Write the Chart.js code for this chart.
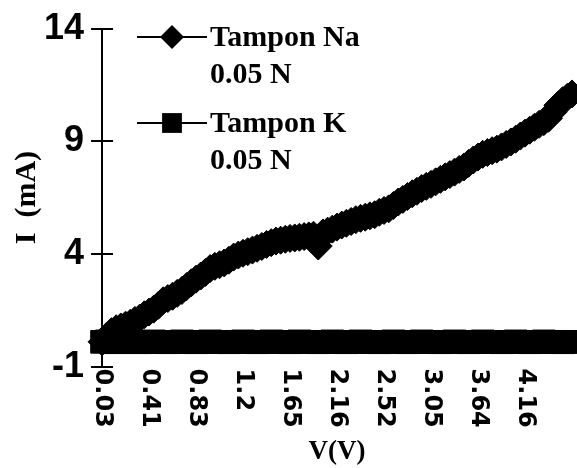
<!DOCTYPE html>
<html>
<head>
<meta charset="utf-8">
<script src="https://cdn.jsdelivr.net/npm/chart.js"></script>
<style>
  html, body { margin: 0; padding: 0; background: #fff; }
</style>
</head>
<body>
<canvas id="myChart" width="577" height="468"></canvas>
<script>
// tick labels shown on the V axis (one every 10 points)
var vTicks = ['0.03', '0.41', '0.83', '1.2', '1.65', '2.16', '2.52', '3.05', '3.64', '4.16'];

// I (mA), Tampon Na 0.05 N
var naValues = [
  0.10, 0.35, 0.55, 0.68, 0.76, 0.84, 0.92, 1.05, 1.15, 1.30,
  1.42, 1.55, 1.72, 1.92, 2.02, 2.12, 2.25, 2.38, 2.55, 2.72,
  2.88, 3.02, 3.18, 3.35, 3.45, 3.52, 3.60, 3.72, 3.86, 3.95,
  4.03, 4.10, 4.17, 4.25, 4.33, 4.42, 4.50, 4.57, 4.61, 4.65,
  4.69, 4.71, 4.74, 4.77, 4.80, 4.83, 4.35, 4.93, 5.01, 5.10,
  5.19, 5.28, 5.36, 5.44, 5.52, 5.58, 5.63, 5.69, 5.74, 5.85,
  5.93, 6.00, 6.15, 6.30, 6.42, 6.55, 6.67, 6.78, 6.90, 7.00,
  7.09, 7.20, 7.31, 7.42, 7.52, 7.63, 7.75, 7.86, 8.02, 8.17,
  8.30, 8.42, 8.50, 8.58, 8.65, 8.75, 8.86, 8.97, 9.09, 9.23,
  9.36, 9.49, 9.62, 9.75, 9.87, 10.02, 10.30, 10.60, 10.80, 10.95,
  11.10
];

// I (mA), Tampon K 0.05 N
var kValues = [
  0.10, 0.12, 0.10, 0.08, 0.10, 0.12, 0.10, 0.10, 0.08, 0.10,
  0.10, 0.12, 0.10, 0.10, 0.08, 0.10, 0.10, 0.12, 0.10, 0.10,
  0.08, 0.10, 0.10, 0.12, 0.10, 0.10, 0.10, 0.08, 0.10, 0.10,
  0.12, 0.10, 0.10, 0.08, 0.10, 0.10, 0.12, 0.10, 0.10, 0.10,
  0.08, 0.10, 0.12, 0.10, 0.10, 0.10, 0.08, 0.10, 0.10, 0.12,
  0.10, 0.10, 0.08, 0.10, 0.10, 0.12, 0.10, 0.10, 0.10, 0.08,
  0.10, 0.10, 0.12, 0.10, 0.10, 0.08, 0.10, 0.10, 0.12, 0.10,
  0.10, 0.10, 0.08, 0.10, 0.10, 0.12, 0.10, 0.10, 0.08, 0.10,
  0.10, 0.12, 0.10, 0.10, 0.10, 0.08, 0.10, 0.10, 0.12, 0.10,
  0.10, 0.08, 0.10, 0.10, 0.12, 0.10, 0.10, 0.10, 0.08, 0.10,
  0.10
];

var seriesNames = ['Tampon Na', 'Tampon K'];
var seriesConc = ['0.05 N', '0.05 N'];

// category labels: known voltage every 10th point, blank elsewhere
var labels = naValues.map(function (v, i) {
  return i % 10 === 0 && vTicks[i / 10] ? vTicks[i / 10] : '';
});

// x labels turned clockwise (read top to bottom)
var xLabelsCW = {
  id: 'xLabelsCW',
  afterDraw: function (chart) {
    var sc = chart.scales.x, ctx = chart.ctx;
    ctx.save();
    ctx.fillStyle = '#000';
    ctx.font = 'bold 24px "DejaVu Sans"';
    ctx.textAlign = 'left';
    ctx.textBaseline = 'middle';
    chart.data.labels.forEach(function (lab, i) {
      if (!lab) return;
      ctx.save();
      ctx.translate(sc.getPixelForValue(i), sc.top + 2);
      ctx.rotate(Math.PI / 2);
      ctx.fillText(lab, 0, 0);
      ctx.restore();
    });
    ctx.restore();
  }
};

// y tick marks crossing the axis
var innerTicks = {
  id: 'innerTicks',
  afterDraw: function (chart) {
    var ys = chart.scales.y, ctx = chart.ctx;
    ctx.save();
    ctx.strokeStyle = '#000';
    ctx.lineWidth = 2;
    ys.ticks.forEach(function (t) {
      var py = Math.round(ys.getPixelForValue(t.value));
      ctx.beginPath();
      ctx.moveTo(ys.right, py);
      ctx.lineTo(ys.right + 11, py);
      ctx.stroke();
    });
    ctx.restore();
  }
};

function drawMarker(ctx, style, r, x, y) {
  ctx.beginPath();
  if (style === 'rectRot') {
    ctx.moveTo(x - r, y);
    ctx.lineTo(x, y - r);
    ctx.lineTo(x + r, y);
    ctx.lineTo(x, y + r);
  } else {
    var s = r * Math.SQRT1_2;
    ctx.rect(x - s, y - s, 2 * s, 2 * s);
  }
  ctx.closePath();
  ctx.fill();
}

// legend at top left of the plot, two text lines per series
var sideLegend = {
  id: 'sideLegend',
  afterDraw: function (chart) {
    var ctx = chart.ctx;
    ctx.save();
    chart.data.datasets.forEach(function (ds, k) {
      var y = 37 + k * 86;
      ctx.strokeStyle = '#000';
      ctx.fillStyle = '#000';
      ctx.lineWidth = 2;
      ctx.beginPath();
      ctx.moveTo(137, y);
      ctx.lineTo(207, y);
      ctx.stroke();
      drawMarker(ctx, ds.pointStyle, ds.legendRadius, 172, y);
      ctx.font = 'bold 30px "Liberation Serif"';
      ctx.textAlign = 'left';
      ctx.textBaseline = 'alphabetic';
      ctx.fillText(seriesNames[k], 210, y + 9);
      ctx.fillText(seriesConc[k], 210, y + 46);
    });
    ctx.restore();
  }
};

var ctx = document.getElementById('myChart').getContext('2d');
var myChart = new Chart(ctx, {
  type: 'line',
  data: {
    labels: labels,
    datasets: [{
      label: seriesNames[0] + ' ' + seriesConc[0],
      data: naValues,
      borderColor: '#000',
      backgroundColor: '#000',
      borderWidth: 1,
      pointStyle: 'rectRot',
      pointRadius: 14,
      legendRadius: 12,
      pointBorderWidth: 1
    }, {
      label: seriesNames[1] + ' ' + seriesConc[1],
      data: kValues,
      borderColor: '#000',
      backgroundColor: '#000',
      borderWidth: 1,
      pointStyle: 'rect',
      pointRadius: 16,
      legendRadius: 14,
      pointBorderWidth: 1
    }]
  },
  options: {
    responsive: false,
    animation: false,
    devicePixelRatio: 1,
    layout: { autoPadding: false, padding: { left: 9, right: 5, top: 10, bottom: 0 } },
    scales: {
      x: {
        border: { display: false },
        grid: { display: false },
        ticks: { display: false, autoSkip: false },
        title: {
          display: true,
          text: 'V(V)',
          color: '#000',
          padding: { top: 61, bottom: 0 },
          font: { family: 'Liberation Serif', size: 27, weight: 'bold' }
        }
      },
      y: {
        min: -1,
        max: 14,
        border: { display: true, color: '#000', width: 2 },
        grid: { drawOnChartArea: false, color: '#000', lineWidth: 2, tickLength: 11 },
        ticks: {
          stepSize: 5,
          padding: 7,
          color: '#000',
          font: { family: 'Liberation Sans', size: 36, weight: 'bold' }
        },
        title: {
          display: true,
          text: 'I  (mA)',
          color: '#000',
          padding: { top: 0, bottom: -8 },
          font: { family: 'Liberation Serif', size: 30, weight: 'bold' }
        }
      }
    },
    plugins: {
      legend: { display: false },
      tooltip: { enabled: false }
    },
    elements: {
      line: { tension: 0 }
    }
  },
  plugins: [xLabelsCW, innerTicks, sideLegend]
});
</script>
</body>
</html>
